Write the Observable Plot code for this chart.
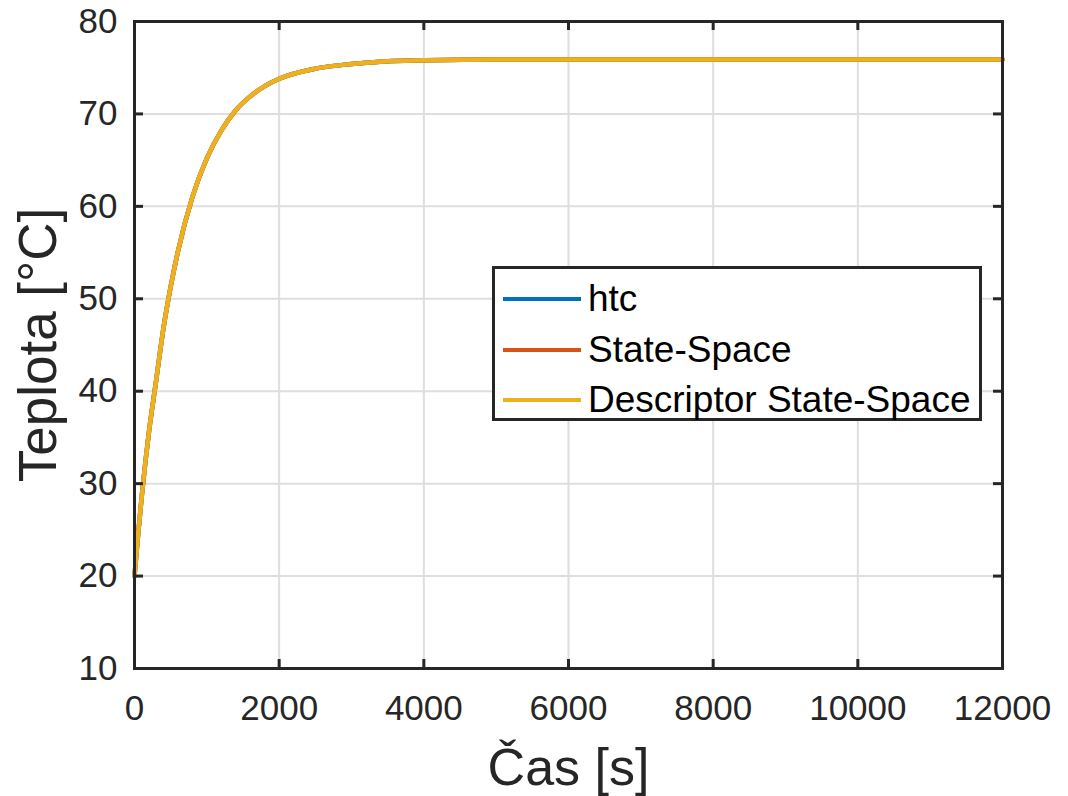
<!DOCTYPE html>
<html><head><meta charset="utf-8">
<script src="https://cdn.jsdelivr.net/npm/d3@7"></script>
<script src="https://cdn.jsdelivr.net/npm/@observablehq/plot@0.6"></script>
<style>
body{margin:0;background:#fff;}
#wrap{position:relative;width:1068px;height:796px;}
.legend{position:absolute;left:492px;top:266px;width:484px;height:149px;border:3px solid #262626;background:#fff;font-family:"Liberation Sans",Arial,sans-serif;font-size:37px;color:#000;}
.item{position:absolute;left:8px;height:44px;display:flex;align-items:center;white-space:nowrap;}
.sw{width:78px;height:4px;margin-right:7px;}
</style>
</head><body>
<div id="wrap"></div>
<script>
const timeS = [0,50,100,150,200,300,400,500,600,800,1000,1200,1400,1600,1800,2000,2500,3000,3500,4000,5000,6000,8000,10000,12000];
const htcTemp = [20,24.5,28.6,32.3,35.6,41.2,46.8,51.3,55.1,61.0,65.2,68.2,70.4,71.9,73.0,73.8,74.9,75.4,75.7,75.8,75.9,75.9,75.9,75.9,75.9];
const ssTemp  = [20,24.5,28.6,32.3,35.6,41.2,46.8,51.3,55.1,61.0,65.2,68.2,70.4,71.9,73.0,73.8,74.9,75.4,75.7,75.8,75.9,75.9,75.9,75.9,75.9];
const dssTemp = [20,24.5,28.6,32.3,35.6,41.2,46.8,51.3,55.1,61.0,65.2,68.2,70.4,71.9,73.0,73.8,74.9,75.4,75.7,75.8,75.9,75.9,75.9,75.9,75.9];
const seriesNames = ["htc","State-Space","Descriptor State-Space"];
const seriesColors = ["#0072BD","#D95319","#EDB120"];
const xTicks = [0,2000,4000,6000,8000,10000,12000];
const yTicks = [10,20,30,40,50,60,70,80];
const xLabel = "Čas [s]";
const yLabel = "Teplota [°C]";

const seriesVals = [htcTemp, ssTemp, dssTemp];
const rows = [];
seriesNames.forEach((name,i)=>timeS.forEach((t,j)=>rows.push({series:name,t,temp:seriesVals[i][j]})));

const W=1068,H=796,mL=134,mR=66,mT=21,mB=128;
const fw=W-mL-mR, fh=H-mT-mB, tl=9;
const axisColor="#262626";
const font='"Liberation Sans", Arial, sans-serif';

const chart = Plot.plot({
  width:W,height:H,marginLeft:mL,marginRight:mR,marginTop:mT,marginBottom:mB,
  style:{fontFamily:font,color:axisColor,background:"#fff"},
  x:{domain:[0,12000]},
  y:{domain:[10,80]},
  color:{domain:seriesNames,range:seriesColors},
  marks:[
    Plot.gridX(xTicks,{stroke:"#dedede",strokeOpacity:1,strokeWidth:2}),
    Plot.gridY(yTicks,{stroke:"#dedede",strokeOpacity:1,strokeWidth:2}),
    Plot.line(rows,{x:"t",y:"temp",z:"series",stroke:"series",strokeWidth:4.5,curve:"monotone-x"}),
    Plot.tickX(xTicks,{x:d=>d,stroke:axisColor,strokeWidth:3,insetTop:fh-tl}),
    Plot.tickX(xTicks,{x:d=>d,stroke:axisColor,strokeWidth:3,insetBottom:fh-tl}),
    Plot.tickY(yTicks,{y:d=>d,stroke:axisColor,strokeWidth:3,insetRight:fw-tl}),
    Plot.tickY(yTicks,{y:d=>d,stroke:axisColor,strokeWidth:3,insetLeft:fw-tl}),
    Plot.frame({stroke:axisColor,strokeWidth:3}),
    Plot.axisX({ticks:xTicks,tickSize:0,tickPadding:27,fontSize:35,label:null,fill:axisColor,tickFormat:d=>String(d)}),
    Plot.axisY({ticks:yTicks,tickSize:0,tickPadding:17,fontSize:35,label:null,fill:axisColor,tickFormat:d=>String(d)}),
    Plot.text([xLabel],{text:d=>d,frameAnchor:"bottom",dy:100,lineAnchor:"middle",textAnchor:"middle",fontSize:52,fill:axisColor}),
    Plot.text([yLabel],{text:d=>d,frameAnchor:"left",dx:-95,rotate:-90,lineAnchor:"middle",textAnchor:"middle",fontSize:53,fill:axisColor})
  ]
});
const wrap=document.getElementById("wrap");
wrap.appendChild(chart);

const leg=document.createElement("div");
leg.className="legend";
const ys=[8,58.5,109];
seriesNames.forEach((n,i)=>{
  const it=document.createElement("div");
  it.className="item";
  it.style.top=ys[i]+"px";
  const sw=document.createElement("div");
  sw.className="sw";sw.style.background=seriesColors[i];
  const tx=document.createElement("span");tx.textContent=n;
  it.appendChild(sw);it.appendChild(tx);
  leg.appendChild(it);
});
wrap.appendChild(leg);
</script>
</body></html>
